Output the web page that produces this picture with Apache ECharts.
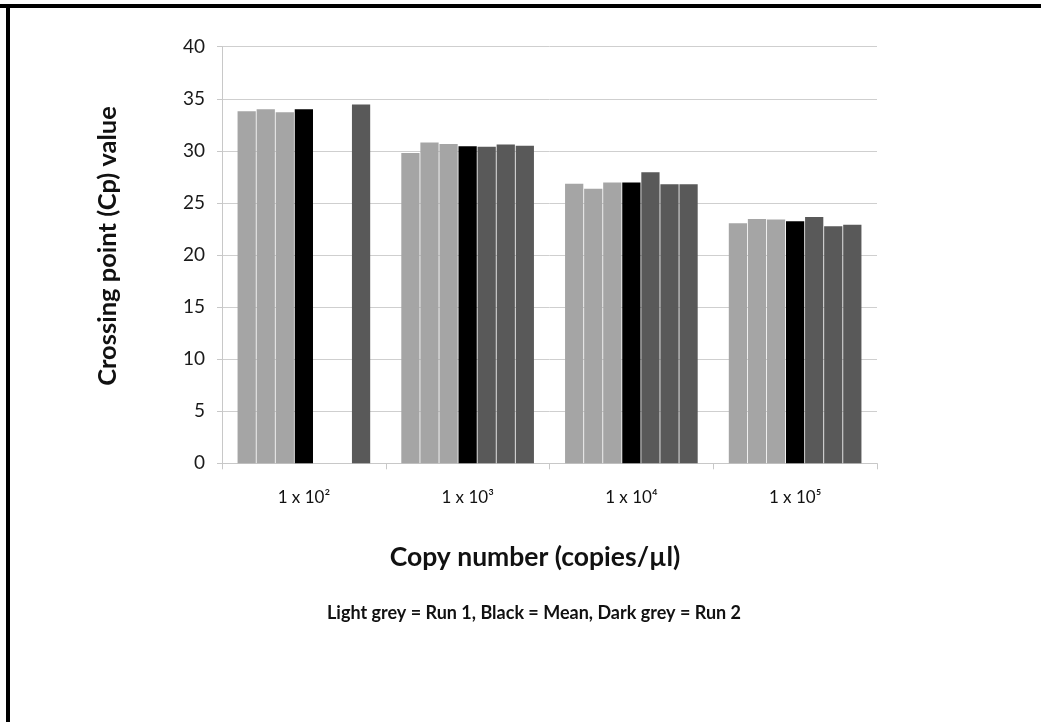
<!DOCTYPE html>
<html>
<head>
<meta charset="utf-8">
<script src="https://cdn.jsdelivr.net/npm/echarts@6/dist/echarts.min.js"></script>
<style>
html,body{margin:0;padding:0;background:#fff;}
#chart{width:1041px;height:722px;}
</style>
</head>
<body>
<div id="chart"></div>
<script>
const categories = ['1 x 10²', '1 x 10³', '1 x 10⁴', '1 x 10⁵'];
const run1a = [33.8, 29.8, 26.85, 23.05];
const run1b = [34.0, 30.8, 26.35, 23.45];
const run1c = [33.7, 30.65, 26.95, 23.4];
const mean  = [34.0, 30.45, 26.95, 23.25];
const run2a = [null, 30.4, 27.95, 23.65];
const run2b = [null, 30.6, 26.8, 22.75];
const run2c = [34.45, 30.5, 26.8, 22.9];
const yTicks = [0, 5, 10, 15, 20, 25, 30, 35, 40];

const LIGHT = '#a5a5a5', BLACK = '#000000', DARK = '#595959';
const FONT = 'Lato, "Open Sans", sans-serif';

function bar(name, data, color) {
  return {
    name, type: 'bar', data,
    barGap: '4.5%', barCategoryGap: '19%',
    itemStyle: { color },
    emphasis: { disabled: true },
    animation: false
  };
}

const chart = echarts.init(document.getElementById('chart'));
chart.setOption({
  animation: false,
  grid: { left: 222, right: 164, top: 46.7, bottom: 258.7, containLabel: false },
  xAxis: {
    type: 'category',
    data: categories,
    axisLine: { lineStyle: { color: '#c8c8c8', width: 1 } },
    axisTick: { show: true, alignWithLabel: false, length: 6, lineStyle: { color: '#c8c8c8' } },
    axisLabel: { fontFamily: FONT, fontSize: 17, color: '#111', margin: 26 }
  },
  yAxis: {
    type: 'value',
    min: yTicks[0], max: yTicks[yTicks.length - 1], interval: 5,
    axisLine: { show: true, lineStyle: { color: '#c8c8c8', width: 1 } },
    axisTick: { show: true, length: 5, lineStyle: { color: '#c8c8c8' } },
    axisLabel: { fontFamily: FONT, fontSize: 19, color: '#1a1a1a', margin: 17 },
    splitLine: { lineStyle: { color: '#cfcfcf', width: 1 } }
  },
  series: [
    bar('Run 1 a', run1a, LIGHT),
    bar('Run 1 b', run1b, LIGHT),
    bar('Run 1 c', run1c, LIGHT),
    bar('Mean', mean, BLACK),
    bar('Run 2 a', run2a, DARK),
    bar('Run 2 b', run2b, DARK),
    bar('Run 2 c', run2c, DARK)
  ],
  graphic: [
    { type: 'rect', shape: { x: 0, y: 4, width: 1041, height: 4 }, style: { fill: '#000' }, silent: true },
    { type: 'rect', shape: { x: 6, y: 4, width: 4, height: 718 }, style: { fill: '#000' }, silent: true },
    { type: 'text', x: 108, y: 246, rotation: Math.PI / 2, style: { text: 'Crossing point (Cp) value', fontFamily: FONT, fontSize: 25.5, fontWeight: 'bold', fill: '#111', align: 'center', verticalAlign: 'middle' }, silent: true },
    { type: 'text', x: 535, y: 557, style: { text: 'Copy number (copies/µl)', fontFamily: FONT, fontSize: 26.5, fontWeight: 'bold', fill: '#111', align: 'center', verticalAlign: 'middle' }, silent: true },
    { type: 'text', x: 534, y: 613, style: { text: 'Light grey = Run 1, Black = Mean, Dark grey = Run 2', fontFamily: FONT, fontSize: 18, fontWeight: 'bold', fill: '#111', align: 'center', verticalAlign: 'middle' }, silent: true }
  ]
});
</script>
</body>
</html>
